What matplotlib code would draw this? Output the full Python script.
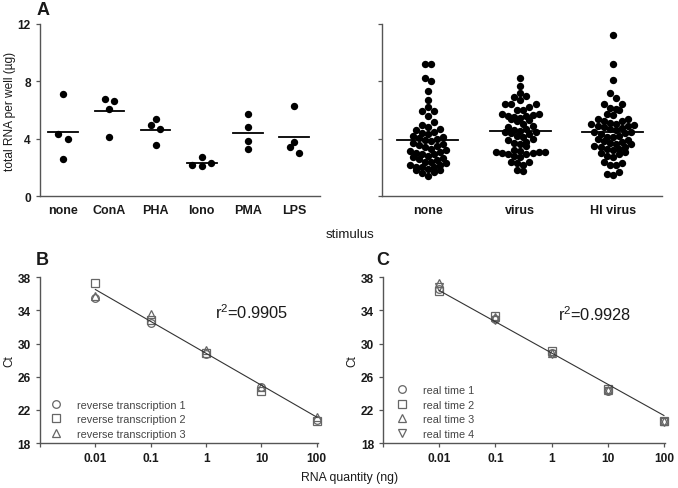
import numpy as np
import matplotlib.pyplot as plt
from matplotlib.ticker import FixedLocator, FixedFormatter, NullLocator

plt.rcParams['font.family'] = ['Liberation Sans', 'DejaVu Sans']

# panel A, left: 4 wells per stimulus
stim_left = ['none', 'ConA', 'PHA', 'Iono', 'PMA', 'LPS']
rna_left = [
    [7.1, 4.3, 4.0, 2.6],
    [6.65, 6.75, 6.1, 4.1],
    [5.4, 4.95, 4.65, 3.55],
    [2.75, 2.3, 2.1, 2.15],
    [5.75, 4.8, 3.85, 3.3],
    [6.25, 3.8, 3.4, 3.0],
]

# panel A, right: donors
stim_right = ['none', 'virus', 'HI virus']
rna_none = [9.2, 9.2, 8.2, 8.0, 7.3, 6.7, 6.2, 5.95, 5.9, 5.55, 5.15, 4.95, 4.8, 4.7,
            4.6, 4.5, 4.4, 4.35, 4.2, 4.1, 4.05, 3.95, 3.9, 3.85, 3.7, 3.6, 3.55, 3.5,
            3.4, 3.3, 3.2, 3.15, 3.1, 3.0, 2.95, 2.9, 2.8, 2.7, 2.65, 2.6, 2.5, 2.4,
            2.35, 2.3, 2.2, 2.15, 2.05, 2.0, 2.0, 1.9, 1.8, 1.8, 1.65, 1.6, 1.4]
rna_virus = [8.2, 7.65, 7.2, 7.0, 6.9, 6.7, 6.4, 6.4, 6.4, 6.2, 6.0, 6.0, 5.7, 5.7,
             5.65, 5.6, 5.55, 5.5, 5.45, 5.4, 5.3, 5.2, 5.0, 4.9, 4.8, 4.7, 4.6, 4.55,
             4.5, 4.45, 4.4, 4.3, 4.2, 4.1, 4.0, 3.9, 3.8, 3.7, 3.6, 3.5, 3.2, 3.15,
             3.1, 3.1, 3.05, 3.0, 3.0, 2.95, 2.9, 2.8, 2.7, 2.4, 2.35, 2.3, 2.2, 1.85, 1.75]
rna_hi = [11.2, 9.2, 8.1, 7.2, 6.85, 6.4, 6.4, 6.15, 6.1, 6.0, 5.7, 5.65, 5.4, 5.35,
          5.25, 5.2, 5.1, 5.05, 5.0, 4.95, 4.9, 4.85, 4.8, 4.75, 4.7, 4.6, 4.5, 4.45,
          4.4, 4.3, 4.2, 4.15, 4.1, 4.0, 3.9, 3.85, 3.8, 3.7, 3.65, 3.6, 3.5, 3.45,
          3.4, 3.3, 3.25, 3.2, 3.1, 3.0, 2.9, 2.8, 2.7, 2.4, 2.3, 2.2, 2.15, 1.7, 1.55, 1.5]

# panels B and C: standard curves
qty = [0.01, 0.1, 1, 10, 100]
rt_labels = ['reverse transcription 1', 'reverse transcription 2', 'reverse transcription 3']
rt_ct = [
    [35.5, 32.5, 28.7, 24.8, 20.8],
    [37.3, 32.9, 28.8, 24.25, 20.6],
    [35.7, 33.6, 29.2, 24.8, 21.1],
]
rt_fit = (28.82, -3.85)   # intercept, slope vs log10(qty)
rt_r2 = '0.9905'

real_labels = ['real time 1', 'real time 2', 'real time 3', 'real time 4']
real_ct = [
    [36.6, 33.0, 28.8, 24.3, 20.6],
    [36.4, 33.3, 29.1, 24.5, 20.6],
    [37.3, 33.2, 28.9, 24.4, 20.6],
    [36.8, 32.9, 28.7, 24.3, 20.5],
]
real_fit = (28.86, -3.77)
real_r2 = '0.9928'

SPINE = '#555555'
TXT = '#1a1a1a'


def swarm(vals, h, dx):
    # GraphPad-like rows: values within h share a row, spread sideways
    v = np.sort(np.asarray(vals, float))
    offs = np.zeros(len(v))
    i = 0
    while i < len(v):
        j = i
        while j < len(v) and v[j] - v[i] <= h:
            j += 1
        n = j - i
        if n % 2:
            slots = [0]
            for k in range(1, n // 2 + 1):
                slots += [-k, k]
        else:
            slots = []
            for k in range(n // 2):
                slots += [k + 0.5, -(k + 0.5)]
        offs[i:j] = np.array(slots[:n]) * dx
        i = j
    return v, offs


def style(ax):
    for s in ['top', 'right']:
        ax.spines[s].set_visible(False)
    for s in ['left', 'bottom']:
        ax.spines[s].set_color(SPINE)
        ax.spines[s].set_linewidth(1.0)
    ax.tick_params(direction='out', length=3, width=0.9, color=SPINE,
                   labelcolor=TXT, labelsize=8.6)
    for lab in ax.get_xticklabels() + ax.get_yticklabels():
        lab.set_fontweight('bold')


fig = plt.figure(figsize=(6.78, 4.89), dpi=100)

# ---- panel A left
axL = fig.add_axes([0.059, 0.597, 0.413, 0.352])
for i, vals in enumerate(rna_left):
    v, o = swarm(vals, 0.55, 0.2)
    axL.plot(i + o, v, 'o', color='black', ms=5.3, mew=0, clip_on=False)
    m = np.mean(vals)
    axL.plot([i - 0.32, i + 0.32], [m, m], color='black', lw=1.3)
axL.set_xlim(-0.5, 5.56)
axL.set_ylim(0, 12)
axL.set_yticks([0, 4, 8, 12])
axL.set_xticks(range(len(stim_left)))
axL.set_xticklabels(stim_left)
axL.set_ylabel('total RNA per well (\u00b5g)', fontsize=8.6, color=TXT, labelpad=1)
style(axL)
axL.tick_params(axis='x', length=0, pad=6, labelsize=9)

# ---- panel A right
axR = fig.add_axes([0.563, 0.597, 0.413, 0.352])
for i, vals in enumerate([rna_none, rna_virus, rna_hi]):
    v, o = swarm(vals, 0.42, 0.066)
    axR.plot(i + o, v, 'o', color='black', ms=5.3, mew=0, clip_on=False)
    m = np.mean(vals)
    axR.plot([i - 0.33, i + 0.33], [m, m], color='black', lw=1.3)
axR.set_xlim(-0.5, 2.53)
axR.set_ylim(0, 12)
axR.set_yticks([0, 4, 8, 12])
axR.set_yticklabels([])
axR.set_xticks(range(len(stim_right)))
axR.set_xticklabels(stim_right)
style(axR)
axR.tick_params(axis='x', length=0, pad=6, labelsize=9)

fig.text(0.516, 0.519, 'stimulus', ha='center', va='center', fontsize=9.6, color=TXT)


def curve(rect, sets, labels, markers, fit, r2, r2pos, leg_anchor):
    ax = fig.add_axes(rect)
    for ct, lab, mk in zip(sets, labels, markers):
        ax.plot(qty, ct, mk, ls='none', mfc='none', mec='#666666', mew=0.9, ms=5.5,
                label=lab, clip_on=False)
    lx = np.log10([qty[0], qty[-1]])
    ax.plot(10 ** lx, fit[0] + fit[1] * lx, color='#333333', lw=0.8)
    ax.set_xscale('log')
    ax.set_xlim(0.001, 105)
    ax.set_ylim(18, 38)
    ax.set_yticks(range(18, 39, 4))
    ax.xaxis.set_major_locator(FixedLocator([0.001] + qty))
    ax.xaxis.set_major_formatter(FixedFormatter(['', '0.01', '0.1', '1', '10', '100']))
    ax.xaxis.set_minor_locator(NullLocator())
    ax.set_ylabel('Ct', fontsize=8.5, color=TXT, labelpad=2)
    ax.text(r2pos[0], r2pos[1], '$\\mathregular{r^2}$=' + r2, transform=ax.transAxes,
            fontsize=11.8, color=TXT, va='center')
    leg = ax.legend(loc='lower left', bbox_to_anchor=leg_anchor, frameon=False,
                    fontsize=7.8, handletextpad=1.3, labelspacing=0.42, borderaxespad=0,
                    handlelength=1.2)
    for t in leg.get_texts():
        t.set_color('#444444')
    style(ax)
    return ax


axB = curve([0.059, 0.092, 0.41, 0.339], rt_ct, rt_labels, ['o', 's', '^'],
            rt_fit, rt_r2, (0.63, 0.79), (0.02, 0.0))
axC = curve([0.565, 0.092, 0.416, 0.339], real_ct, real_labels, ['o', 's', '^', 'v'],
            real_fit, real_r2, (0.62, 0.78), (0.03, 0.0))

fig.text(0.516, 0.022, 'RNA quantity (ng)', ha='center', va='center', fontsize=8.8, color=TXT)

for x, y, s in [(0.064, 0.979, 'A'), (0.063, 0.468, 'B'), (0.564, 0.468, 'C')]:
    fig.text(x, y, s, ha='center', va='center', fontsize=13, fontweight='bold', color=TXT)

fig.savefig('out.png', dpi=100)
